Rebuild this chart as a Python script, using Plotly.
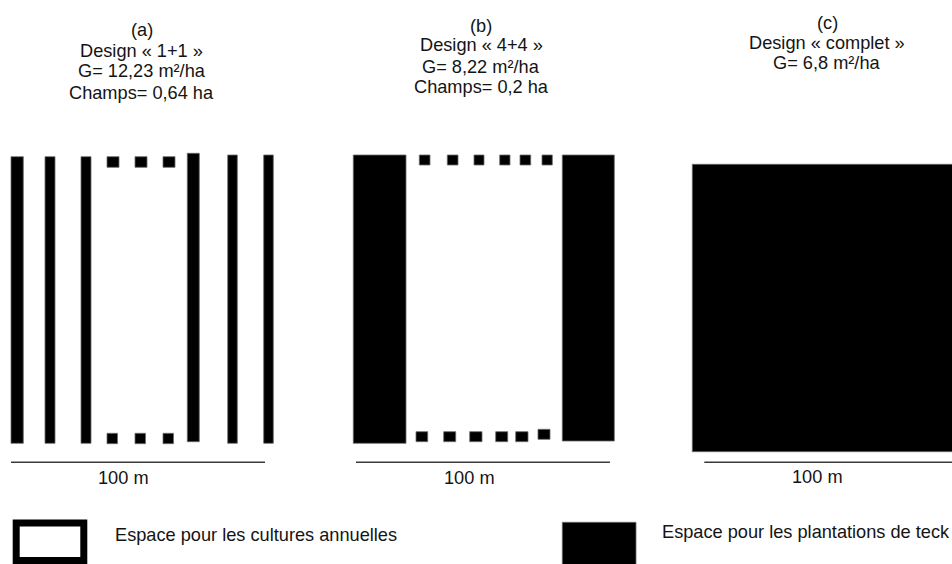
import plotly.graph_objects as go

# ---------------- data (diagram units: 1 unit = 1 px of the 952x564 page) -------------
# Panel (a) – Design « 1+1 »
A_STRIP_X0 = [11, 45, 81, 187.3, 227.7, 263.7]
A_STRIP_X1 = [23.3, 55, 91, 199.3, 237.3, 273.3]
A_STRIP_Y0 = [156.7, 156.7, 156.7, 153.3, 155, 155]
A_STRIP_Y1 = [443.3, 443.3, 443.3, 441.7, 443.3, 443.3]
A_TOP_SQ_X0 = [107, 135, 163]
A_TOP_SQ_X1 = [119, 147, 175]
A_TOP_SQ_Y = [156.7, 167.3]
A_BOT_SQ_X0 = [107, 135, 163]
A_BOT_SQ_X1 = [117.5, 145.5, 173.5]
A_BOT_SQ_Y = [433.3, 443.7]

# Panel (b) – Design « 4+4 »
B_BLOCK_X0 = [353.3, 562.3]
B_BLOCK_X1 = [406, 614.3]
B_BLOCK_Y0 = [155, 155]
B_BLOCK_Y1 = [443.3, 441]
B_TOP_SQ_X0 = [419.3, 447.3, 474, 499.7, 520, 542]
B_TOP_SQ_X1 = [430, 458, 484, 510, 530.7, 552.3]
B_TOP_SQ_Y0 = [155, 155, 155, 155, 155, 155]
B_TOP_SQ_Y1 = [165, 165, 165, 165, 165, 165]
B_BOT_SQ_X0 = [416, 443.7, 469.7, 495.7, 515.7, 538]
B_BOT_SQ_X1 = [427.7, 455.7, 482, 507.7, 528, 550]
B_BOT_SQ_Y0 = [431.7, 431.7, 431.7, 431.7, 431.7, 429.3]
B_BOT_SQ_Y1 = [441.7, 441.7, 441.7, 441.7, 441.7, 439.3]

# Panel (c) – Design « complet »
C_BLOCK = [692.3, 960, 164.3, 451.7]

# Scale bars (100 m)
SCALE_X0 = [11, 356, 704.3]
SCALE_X1 = [265, 610, 960]
SCALE_Y = 462.3
SCALE_LABEL = "100 m"
SCALE_LABEL_X = [123, 469.3, 817.3]
SCALE_LABEL_Y = [477.7, 477.7, 477.2]

# Titles
TITLE_X = [141.7, 481, 827]
TITLE_LINES = [
    ["(a)", "Design « 1+1 »", "G= 12,23 m²/ha", "Champs= 0,64 ha"],
    ["(b)", "Design « 4+4 »", "G= 8,22 m²/ha", "Champs= 0,2 ha"],
    ["(c)", "Design « complet »", "G= 6,8 m²/ha"],
]
TITLE_Y = [
    [29.5, 51, 70.8, 92.5],
    [25.8, 45, 66.7, 87.3],
    [22.5, 43.3, 62.5],
]

# Legend
LEG_OPEN_BOX = [16.2, 83.8, 523, 560.5]
LEG_OPEN_TEXT = "Espace pour les cultures annuelles"
LEG_OPEN_TEXT_XY = [113, 535]
LEG_FILL_BOX = [562.3, 636, 522.3, 570]
LEG_FILL_TEXT = "Espace pour les plantations de teck"
LEG_FILL_TEXT_XY = [660, 532]

FONT = "Liberation Sans, Arial, sans-serif"
TXT = "#141414"
FSIZE = 18.2

PAGE_W, PAGE_H = 952, 564

# ---------------- figure ----------------
fig = go.Figure()
shapes = []


def black_rect(x0, x1, y0, y1):
    shapes.append(dict(type="rect", xref="x", yref="y", x0=x0, x1=x1, y0=y0, y1=y1,
                       fillcolor="black", line=dict(color="#6a6a6a", width=0.8), layer="above"))


for x0, x1, y0, y1 in zip(A_STRIP_X0, A_STRIP_X1, A_STRIP_Y0, A_STRIP_Y1):
    black_rect(x0, x1, y0, y1)
for x0, x1 in zip(A_TOP_SQ_X0, A_TOP_SQ_X1):
    black_rect(x0, x1, A_TOP_SQ_Y[0], A_TOP_SQ_Y[1])
for x0, x1 in zip(A_BOT_SQ_X0, A_BOT_SQ_X1):
    black_rect(x0, x1, A_BOT_SQ_Y[0], A_BOT_SQ_Y[1])

for x0, x1, y0, y1 in zip(B_BLOCK_X0, B_BLOCK_X1, B_BLOCK_Y0, B_BLOCK_Y1):
    black_rect(x0, x1, y0, y1)
for x0, x1, y0, y1 in zip(B_TOP_SQ_X0, B_TOP_SQ_X1, B_TOP_SQ_Y0, B_TOP_SQ_Y1):
    black_rect(x0, x1, y0, y1)
for x0, x1, y0, y1 in zip(B_BOT_SQ_X0, B_BOT_SQ_X1, B_BOT_SQ_Y0, B_BOT_SQ_Y1):
    black_rect(x0, x1, y0, y1)

black_rect(*C_BLOCK)

for x0, x1 in zip(SCALE_X0, SCALE_X1):
    shapes.append(dict(type="line", xref="x", yref="y", x0=x0, x1=x1, y0=SCALE_Y, y1=SCALE_Y,
                       line=dict(color="#3a3a3a", width=1.6)))

# legend boxes
shapes.append(dict(type="rect", xref="x", yref="y", x0=LEG_OPEN_BOX[0], x1=LEG_OPEN_BOX[1],
                   y0=LEG_OPEN_BOX[2], y1=LEG_OPEN_BOX[3], fillcolor="white",
                   line=dict(color="black", width=7)))
black_rect(*LEG_FILL_BOX)

fig.update_layout(shapes=shapes)

annotations = []
for x, lines, ys in zip(TITLE_X, TITLE_LINES, TITLE_Y):
    for t, y in zip(lines, ys):
        annotations.append(dict(x=x, y=y, xref="x", yref="y", text=t, showarrow=False,
                                xanchor="center", yanchor="middle",
                                font=dict(family=FONT, size=FSIZE, color=TXT)))
for x, y in zip(SCALE_LABEL_X, SCALE_LABEL_Y):
    annotations.append(dict(x=x, y=y, xref="x", yref="y", text=SCALE_LABEL, showarrow=False,
                            xanchor="center", yanchor="middle",
                            font=dict(family=FONT, size=FSIZE, color=TXT)))
annotations.append(dict(x=LEG_OPEN_TEXT_XY[0], y=LEG_OPEN_TEXT_XY[1], xref="x", yref="y",
                        text=LEG_OPEN_TEXT, showarrow=False, xanchor="left", yanchor="middle",
                        font=dict(family=FONT, size=FSIZE, color=TXT)))
annotations.append(dict(x=LEG_FILL_TEXT_XY[0], y=LEG_FILL_TEXT_XY[1], xref="x", yref="y",
                        text=LEG_FILL_TEXT, showarrow=False, xanchor="left", yanchor="middle",
                        font=dict(family=FONT, size=FSIZE, color=TXT)))

fig.update_layout(
    annotations=annotations,
    width=PAGE_W, height=PAGE_H,
    margin=dict(l=0, r=0, t=0, b=0, pad=0),
    paper_bgcolor="white", plot_bgcolor="white",
    showlegend=False,
    xaxis=dict(range=[0, PAGE_W], visible=False, fixedrange=True),
    yaxis=dict(range=[PAGE_H, 0], visible=False, fixedrange=True),
)

fig.write_html(
    "out.html",
    config={"displayModeBar": False},
    post_script="document.body.style.margin='0';document.body.style.overflow='hidden';",
)
